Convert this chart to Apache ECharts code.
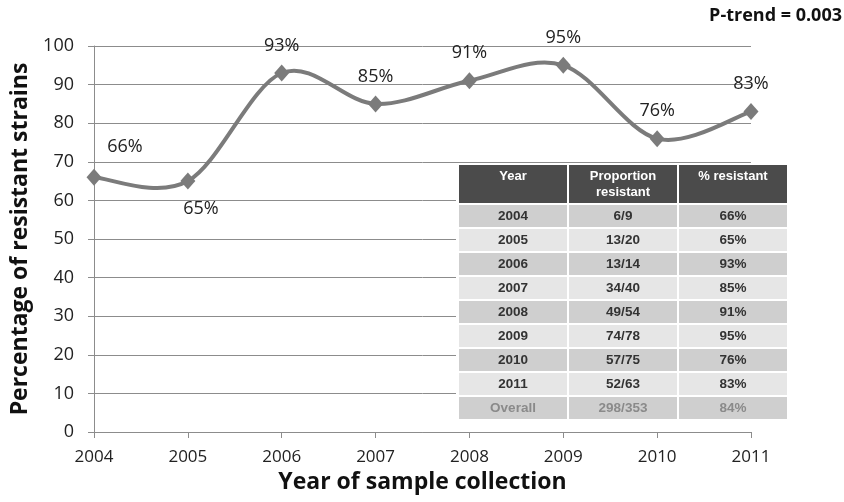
<!DOCTYPE html>
<html>
<head>
<meta charset="utf-8">
<script src="https://cdn.jsdelivr.net/npm/echarts@6/dist/echarts.min.js"></script>
<style>html,body{margin:0;padding:0;background:#fff;}#c{width:844px;height:502px;}</style>
</head>
<body>
<div id="c"></div>
<script>
const years = ['2004','2005','2006','2007','2008','2009','2010','2011'];
const resistantPct = [66, 65, 93, 85, 91, 95, 76, 83];
const proportions = ['6/9','13/20','13/14','34/40','49/54','74/78','57/75','52/63'];
const overall = ['Overall','298/353','84%'];
const tableHeader = ['Year','Proportion\nresistant','% resistant'];
const yTicks = [0,10,20,30,40,50,60,70,80,90,100];

const chart = echarts.init(document.getElementById('c'));
const lineColor = '#7b7b7b';

const seriesData = resistantPct.map((v, i) => {
  const item = { value: v };
  if (i === 0) item.label = { position: 'top', offset: [31, -3] };
  if (i === 1) item.label = { position: 'bottom', offset: [13, 0] };
  return item;
});

// smoothed curve through the data points (Catmull-Rom style, like a spreadsheet "smoothed line")
function renderCurve(params, api) {
  const pts = resistantPct.map((v, i) => api.coord([i, v]));
  const n = pts.length;
  const t = 1 / 6;
  let d = 'M' + pts[0][0] + ',' + pts[0][1];
  for (let i = 0; i < n - 1; i++) {
    const p0 = pts[Math.max(0, i - 1)], p1 = pts[i], p2 = pts[i + 1], p3 = pts[Math.min(n - 1, i + 2)];
    const c1 = [p1[0] + (p2[0] - p0[0]) * t, p1[1] + (p2[1] - p0[1]) * t];
    const c2 = [p2[0] - (p3[0] - p1[0]) * t, p2[1] - (p3[1] - p1[1]) * t];
    d += ' C' + c1[0] + ',' + c1[1] + ' ' + c2[0] + ',' + c2[1] + ' ' + p2[0] + ',' + p2[1];
  }
  return { type: 'path', shape: { pathData: d }, style: { fill: null, stroke: lineColor, lineWidth: 4, lineJoin: 'round' }, silent: true };
}

// table graphic
const tX = 458, tY = 165, colW = 110, headH = 40, rowH = 24, gap = 2;
const g = [];
g.push({ type: 'rect', shape: { x: tX - 2, y: tY - 2, width: colW * 3 + 4, height: headH + rowH * 9 + 4 }, style: { fill: '#ffffff' }, z: 10 });
const rows = years.map((y, i) => [y, proportions[i], resistantPct[i] + '%']);
rows.push(overall);
for (let c = 0; c < 3; c++) {
  g.push({ type: 'rect', shape: { x: tX + c * colW + gap / 2, y: tY, width: colW - gap, height: headH - gap }, style: { fill: '#4b4b4b' }, z: 11 });
  g.push({ type: 'text', x: tX + c * colW + colW / 2, y: tY + 3, style: { text: tableHeader[c], fill: '#ffffff', font: 'bold 13px "Liberation Sans", Arial, sans-serif', align: 'center', verticalAlign: 'top', lineHeight: 16 }, z: 12 });
}
rows.forEach((r, i) => {
  const fill = i % 2 === 0 ? '#cfcfcf' : '#e6e6e6';
  const col = i === rows.length - 1 ? '#8a8a8a' : '#333333';
  for (let c = 0; c < 3; c++) {
    const y0 = tY + headH + i * rowH;
    g.push({ type: 'rect', shape: { x: tX + c * colW + gap / 2, y: y0, width: colW - gap, height: rowH - gap }, style: { fill: fill }, z: 11 });
    g.push({ type: 'text', x: tX + c * colW + colW / 2, y: y0 + (rowH - gap) / 2, style: { text: r[c], fill: col, font: 'bold 13.5px "Liberation Sans", Arial, sans-serif', align: 'center', verticalAlign: 'middle' }, z: 12 });
  }
});
g.push({ type: 'text', right: 2, top: 7, style: { text: 'P-trend = 0.003', fill: '#111', font: 'bold 18px "Open Sans", sans-serif' }, z: 12 });

chart.setOption({
  animation: false,
  backgroundColor: '#ffffff',
  grid: { left: 94, right: 93, top: 46, bottom: 70, containLabel: false },
  xAxis: {
    type: 'category', data: years, boundaryGap: false,
    name: 'Year of sample collection', nameLocation: 'middle', nameGap: 37,
    nameTextStyle: { fontFamily: 'Open Sans', fontWeight: 'bold', fontSize: 23, color: '#111' },
    axisLine: { lineStyle: { color: '#8c8c8c', width: 1 } },
    axisTick: { show: true, alignWithLabel: true, length: 6, lineStyle: { color: '#8c8c8c' } },
    axisLabel: { fontFamily: 'Open Sans', fontSize: 17, color: '#222', margin: 17 },
    splitLine: { show: false }
  },
  yAxis: {
    type: 'value', min: yTicks[0], max: yTicks[yTicks.length - 1], interval: 10,
    name: 'Percentage of resistant strains', nameLocation: 'middle', nameGap: 56, nameRotate: 90,
    nameTextStyle: { fontFamily: 'Open Sans', fontWeight: 'bold', fontSize: 23, color: '#111' },
    axisLine: { show: true, lineStyle: { color: '#8c8c8c', width: 1 } },
    axisTick: { show: true, length: 6, lineStyle: { color: '#8c8c8c' } },
    axisLabel: { fontFamily: 'Open Sans', fontSize: 18, color: '#222', margin: 20 },
    splitLine: { show: true, lineStyle: { color: '#8c8c8c', width: 1 } }
  },
  series: [{
    type: 'custom', renderItem: renderCurve, data: [0], z: 4, silent: true
  }, {
    type: 'line', data: seriesData,
    symbol: 'diamond', symbolSize: [15, 17],
    lineStyle: { width: 0, opacity: 0 },
    itemStyle: { color: lineColor },
    label: { show: true, position: 'top', distance: 10, formatter: '{c}%', fontFamily: 'Open Sans', fontSize: 18, color: '#222' },
    z: 5
  }],
  graphic: g
});
</script>
</body>
</html>
